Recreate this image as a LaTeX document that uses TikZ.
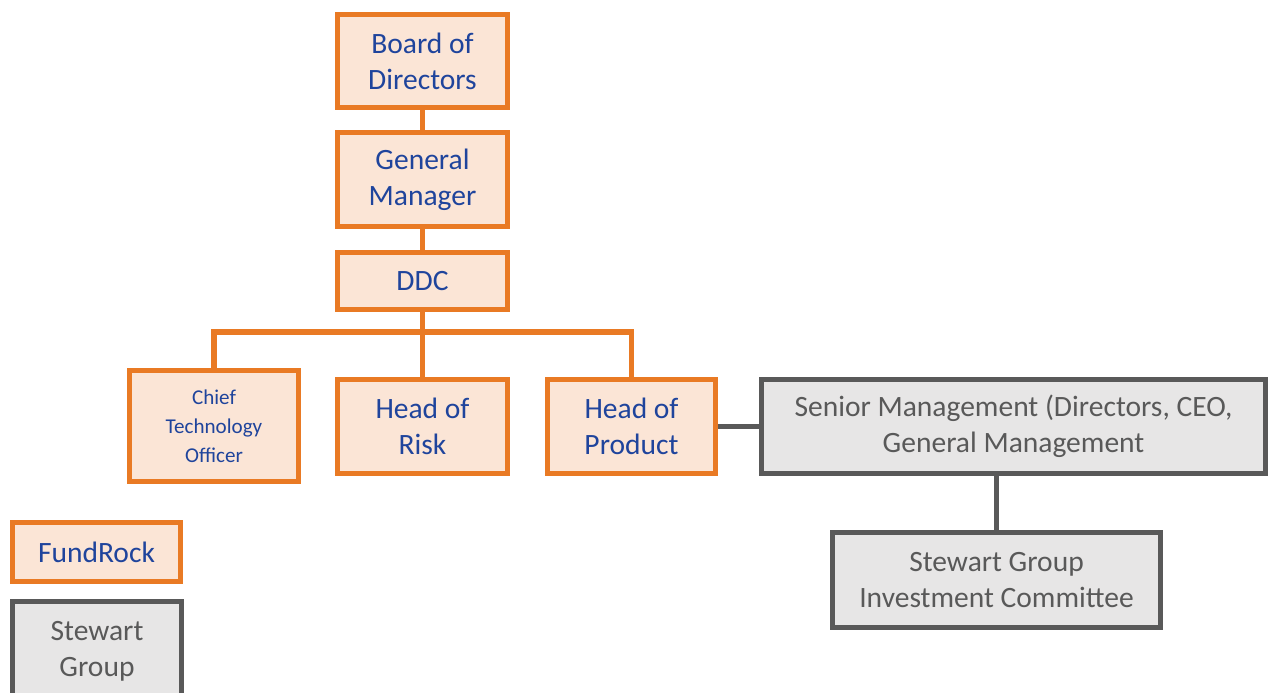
\documentclass[tikz,border=0pt]{standalone}
\usepackage{fontspec}
\setmainfont{Carlito}
\usepackage{tikz}
\usetikzlibrary{positioning}
\definecolor{rustline}{HTML}{E97A24}
\definecolor{peach}{HTML}{FBE5D6}
\definecolor{navytext}{HTML}{1F449C}
\definecolor{slateline}{HTML}{595959}
\definecolor{ashfill}{HTML}{E7E6E6}
\begin{document}
\begin{tikzpicture}[y=-1cm, font=\fontsize{8.4}{10.3}\selectfont, orgbox/.style={draw=rustline, fill=peach, line width=1.45pt, text=navytext, align=center, inner sep=0pt, minimum width=1.70cm, minimum height=0.94cm}, greybox/.style={draw=slateline, fill=ashfill, line width=1.45pt, text=slateline, align=center, inner sep=0pt, minimum height=0.94cm}, link/.style={draw=rustline, line width=1.45pt}, greylink/.style={draw=slateline, line width=1.7pt}]
\useasboundingbox (0,0) rectangle (12.7,6.93); \clip (0,0) rectangle (12.7,6.93);
% reporting chain down to the DDC
\node[orgbox, minimum height=0.93cm] (board) at (4.225,0.61) {Board of\\Directors};
\node[orgbox] (gm) at (4.225,1.795) {General\\Manager};
\node[orgbox, minimum height=0.57cm] (ddc) at (4.225,2.81) {DDC};
\draw[link] (board) -- (gm); \draw[link] (gm) -- (ddc);
% heads under the DDC
\node[orgbox, minimum width=1.69cm, minimum height=1.11cm, font=\fontsize{6}{8.2}\selectfont] (cto) at (2.14,4.26) {Chief\\Technology\\Officer};
\node[orgbox] (risk) at (4.225,4.265) {Head of\\Risk};
\node[orgbox, minimum width=1.68cm] (product) at (6.315,4.265) {Head of\\Product};
\coordinate (bus) at (4.225,3.32);
\draw[link] (ddc) -- (risk); \draw[link] (bus) -| (cto.north); \draw[link] (bus) -| (product.north);
% group side
\node[greybox, minimum width=5.04cm] (senior) at (10.135,4.265) {Senior Management (Directors, CEO,\\General Management};
\node[greybox, minimum width=3.28cm, minimum height=0.95cm] (sgic) at (9.965,5.80) {Stewart Group\\Investment Committee};
\draw[greylink] (product) -- (senior); \draw[greylink] (senior.south -| sgic) -- (sgic);
% legend
\node[orgbox, minimum width=1.68cm, minimum height=0.59cm] (fundrock) at (0.965,5.52) {FundRock};
\node[greybox, minimum width=1.69cm, minimum height=1.0cm] (stewart) at (0.97,6.515) {Stewart\\Group};
\end{tikzpicture}
\end{document}
